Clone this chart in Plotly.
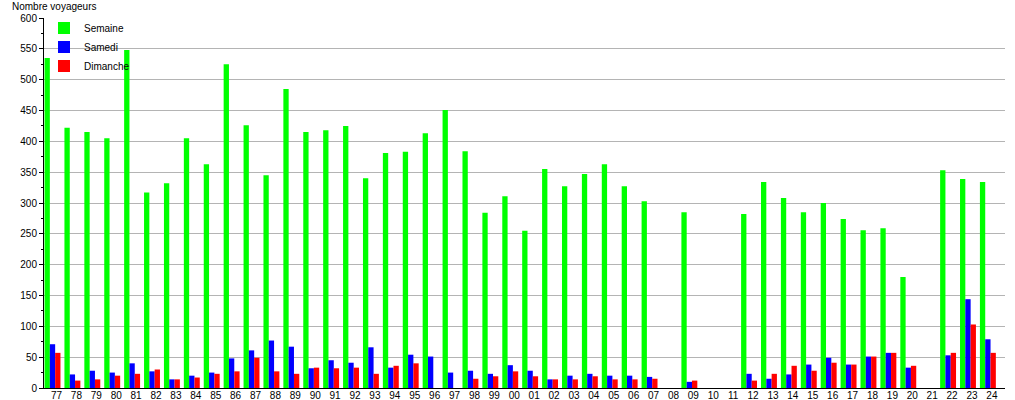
import plotly.graph_objects as go

# Years (categories)
annees = ["77", "78", "79", "80", "81", "82", "83", "84", "85", "86", "87", "88",
          "89", "90", "91", "92", "93", "94", "95", "96", "97", "98", "99", "00",
          "01", "02", "03", "04", "05", "06", "07", "08", "09", "10", "11", "12",
          "13", "14", "15", "16", "17", "18", "19", "20", "21", "22", "23", "24"]

# Average passengers per day type (None = no data)
semaine = [535, 422, 415, 405, 548, 317, 332, 405, 363, 525, 426, 345,
           485, 415, 418, 425, 340, 381, 383, 413, 451, 384, 284, 311,
           255, 355, 327, 347, 363, 327, 303, None, 285, None, None, 282,
           334, 308, 285, 300, 274, 256, 259, 180, None, 353, 339, 334]
samedi = [71, 22, 28, 25, 40, 27, 14, 20, 25, 48, 61, 77,
          67, 32, 45, 41, 66, 33, 54, 51, 25, 28, 23, 37,
          28, 14, 20, 23, 20, 20, 18, None, 10, None, None, 23,
          15, 22, 38, 49, 38, 51, 57, 33, None, 53, 144, 79]
dimanche = [57, 12, 14, 20, 23, 30, 14, 17, 23, 27, 49, 27,
            23, 33, 32, 33, 23, 36, 40, None, None, 15, 19, 27,
            19, 14, 14, 19, 14, 14, 15, None, 12, None, None, 12,
            23, 36, 28, 41, 38, 51, 57, 36, None, 57, 103, 57]

police = dict(family="Liberation Sans, Arial, sans-serif", size=10, color="black")

fig = go.Figure()
fig.add_trace(go.Bar(x=annees, y=semaine, name="Semaine", marker=dict(color="#00ff00", line_width=0)))
fig.add_trace(go.Bar(x=annees, y=samedi, name="Samedi", marker=dict(color="#0000ff", line_width=0)))
fig.add_trace(go.Bar(x=annees, y=dimanche, name="Dimanche", marker=dict(color="#ff0000", line_width=0)))

# Y axis title placed top-left like the original
fig.add_annotation(
    xref="paper", yref="paper", x=-0.0354, y=1.0,
    xanchor="left", yanchor="bottom", yshift=4,
    text="Nombre voyageurs", showarrow=False, font=police
)

fig.update_layout(
    width=1015, height=400,
    margin=dict(l=44, r=10, t=18, b=12, autoexpand=False),
    barmode="group", bargap=0.2, bargroupgap=0,
    plot_bgcolor="white", paper_bgcolor="white",
    font=police,
    legend=dict(
        x=0.0, y=1.012, xanchor="left", yanchor="top",
        bgcolor="rgba(0,0,0,0)", font=police, tracegroupgap=0
    ),
)
fig.update_xaxes(
    type="category", range=[-0.427, 47.86],
    showline=True, linecolor="black", linewidth=1,
    ticks="", showgrid=False, ticklabelshift=4, ticklabelstandoff=-2,
    automargin=False,
)
fig.update_yaxes(
    range=[0, 600], dtick=50,
    showline=True, linecolor="black", linewidth=1,
    ticks="outside", ticklen=4, tickcolor="black",
    gridcolor="#b4b4b4", gridwidth=1, zeroline=False,
    minor=dict(dtick=25, ticks="outside", ticklen=2, tickcolor="black", showgrid=False),
    automargin=False,
)

# drop the default 8px body margin so the figure fills the window
fig.write_html("out.html", config={"displayModeBar": False},
               post_script="document.body.style.margin='0';")
